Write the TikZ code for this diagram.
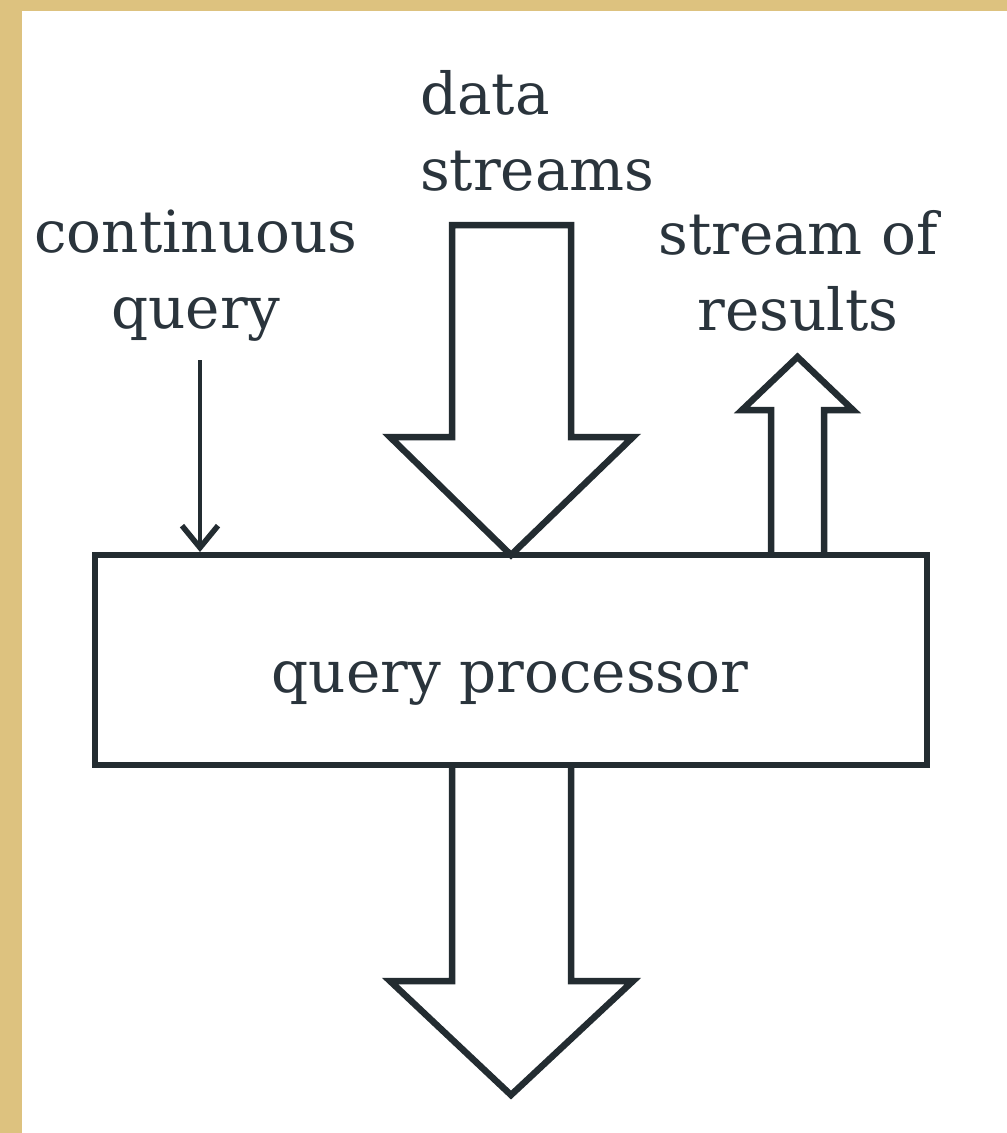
\documentclass[tikz,border=0pt]{standalone}
\usepackage{fontspec}
\setmainfont{DejaVu Serif}
\usetikzlibrary{arrows.meta,calc}
\definecolor{paper}{HTML}{DDC27F}
\definecolor{ink}{HTML}{232C31}
\definecolor{inktext}{HTML}{2A343C}
\begin{document}
\begin{tikzpicture}[x=1pt,y=-1pt,
  outline/.style={draw=ink, line width=6.5pt, line join=miter},
  blockarrow/.style={outline, fill=white},
  lbl/.style={text=inktext, font=\fontsize{58}{76}\selectfont, inner sep=0pt},
  thinarrow/.style={draw=ink, line width=4.5pt, -{Straight Barb[length=22pt,width=36pt,line width=5.5pt]}},
  ]
% page and white sheet
\fill[paper] (0,0) rectangle (1007,1133);
\fill[white] (22,11) rectangle (1007,1133);
\useasboundingbox (0,0) rectangle (1007,1133);

% labels (base anchor sits on the last line)
\node[lbl, anchor=base] (qptext) at (510,692) {query processor};
\node[lbl, align=center, anchor=base] (cq) at (196,328) {continuous\\query};
\node[lbl, align=left, anchor=base west] (ds) at (420,190) {data\\streams};
\node[lbl, align=center, anchor=base] (sr) at (798,330) {stream of\\results};

% processor box
\node[outline, minimum width=832pt, minimum height=210pt,
      inner sep=0pt, outer sep=0pt, anchor=north west] (qp) at (95,555) {};

% incoming data streams (block arrow onto the box)
\draw[blockarrow] (452,225) -- (571,225) -- (571,437) -- (633,437)
  -- (qp.north) -- (390,437) -- (452,437) -- cycle;

% output below the box
\draw[outline] (452,765) -- (452,981) -- (390,981) -- (qp.south |- 0,1095)
  -- (633,981) -- (571,981) -- (571,765);

% stream of results (block arrow out of the box)
\draw[outline] (771,555) -- (771,410) -- (742,410) -- (797.5,357)
  -- (853,410) -- (824,410) -- (824,555);

% continuous query arrow
\coordinate (cqtop) at (200,360);
\coordinate (cqin) at (200,552);
\draw[thinarrow] (cqtop) -- (cqin);
\end{tikzpicture}
\end{document}
